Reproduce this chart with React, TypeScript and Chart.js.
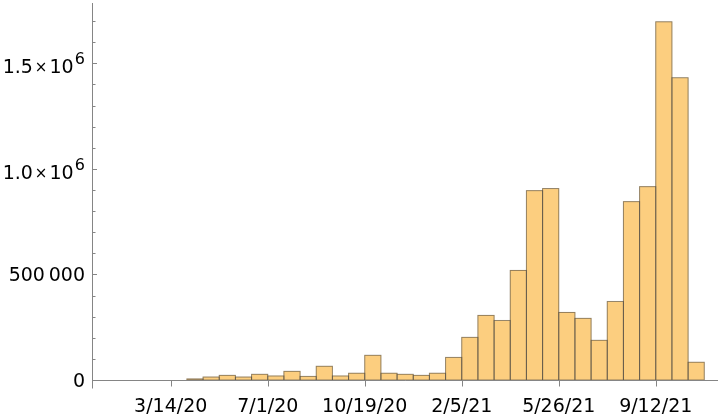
import React, { useEffect, useRef } from "react";
import { Chart, registerables } from "chart.js";

Chart.register(...registerables);

// Histogram bins (bin index units; tick 0 = 3/14/20, 6 bins per labelled tick)
const binIndex = [
  1, 2, 3, 4, 5, 6, 7, 8, 9, 10, 11, 12, 13, 14, 15, 16,
  17, 18, 19, 20, 21, 22, 23, 24, 25, 26, 27, 28, 29, 30, 31, 32,
];
const counts = [
  5000, 14000, 22000, 14000, 27000, 19000, 41000, 17000, 65000, 19000, 32000, 117000,
  32000, 27000, 22000, 32000, 107000, 202000, 306000, 282000, 519000, 897000, 907000, 320000,
  292000, 188000, 372000, 845000, 916000, 1697000, 1432000, 84000,
];

const xTickPositions = [0, 6, 12, 18, 24, 30];
const xTickLabels = ["3/14/20", "7/1/20", "10/19/20", "2/5/21", "5/26/21", "9/12/21"];

const yMajorTicks = [0, 500000, 1000000, 1500000];
const yTickMantissa = ["0", "500\u2009000", "1.0", "1.5"];
const yTickExp = ["", "", "6", "6"];
const yMinorTicks = [
  100000, 200000, 300000, 400000, 600000, 700000, 800000, 900000,
  1100000, 1200000, 1300000, 1400000, 1600000, 1700000,
];

const X_MIN = -4.87;
const X_MAX = 33.85;
const Y_MAX = 1786000;

const FONT = "DejaVu Sans";
const AXIS_COLOR = "#858585";

const outlinePlugin = {
  id: "outline",
  afterDatasetsDraw(chart: any) {
    const ctx = chart.ctx;
    const meta = chart.getDatasetMeta(0);
    ctx.save();
    ctx.lineWidth = 1;
    ctx.strokeStyle = "rgba(60,60,60,0.55)";
    meta.data.forEach((el: any) => {
      const p = el.getProps(["x", "y", "base", "width"], true);
      const left = p.x - p.width / 2;
      ctx.strokeRect(left, p.y, p.width, p.base - p.y);
    });
    ctx.restore();
  },
};

const axesPlugin = {
  id: "axes",
  afterDraw(chart: any) {
    const ctx = chart.ctx;
    const xs = chart.scales.x;
    const ys = chart.scales.y;
    const area = chart.chartArea;
    const ax = Math.round(area.left) + 0.5;
    const ay = Math.round(ys.getPixelForValue(0)) + 0.5;
    ctx.save();
    ctx.strokeStyle = AXIS_COLOR;
    ctx.lineWidth = 1;
    ctx.beginPath();
    ctx.moveTo(ax, area.top);
    ctx.lineTo(ax, ay + 8);
    ctx.stroke();
    ctx.beginPath();
    ctx.moveTo(ax, ay);
    ctx.lineTo(area.right, ay);
    ctx.stroke();
    xTickPositions.forEach((v) => {
      const px = Math.round(xs.getPixelForValue(v)) + 0.5;
      ctx.beginPath();
      ctx.moveTo(px, ay);
      ctx.lineTo(px, ay + 6);
      ctx.stroke();
    });
    yMajorTicks.forEach((v) => {
      if (v === 0) return;
      const py = Math.round(ys.getPixelForValue(v)) + 0.5;
      ctx.beginPath();
      ctx.moveTo(ax, py);
      ctx.lineTo(ax + 4.5, py);
      ctx.stroke();
    });
    yMinorTicks.forEach((v) => {
      const py = Math.round(ys.getPixelForValue(v)) + 0.5;
      ctx.beginPath();
      ctx.moveTo(ax, py);
      ctx.lineTo(ax + 3, py);
      ctx.stroke();
    });

    ctx.fillStyle = "#000";
    ctx.textBaseline = "alphabetic";
    ctx.font = `19px '${FONT}'`;
    ctx.textAlign = "center";
    xTickPositions.forEach((v, i) => {
      const px = xs.getPixelForValue(v);
      ctx.fillText(xTickLabels[i], px, ay + 31);
    });

    const rightEdge = 85;
    yMajorTicks.forEach((v, i) => {
      const py = ys.getPixelForValue(v);
      const exp = yTickExp[i];
      if (!exp) {
        ctx.textAlign = "right";
        ctx.font = `19px '${FONT}'`;
        ctx.fillText(yTickMantissa[i], rightEdge, py + 7);
      } else {
        const base = py + 10;
        ctx.textAlign = "right";
        ctx.font = `16px '${FONT}'`;
        const ew = ctx.measureText(exp).width;
        ctx.fillText(exp, rightEdge, py + 1);
        ctx.font = `19px '${FONT}'`;
        const tenRight = rightEdge - ew - 1.2;
        const tenW = ctx.measureText("10").width;
        ctx.fillText("10", tenRight, base);
        const timesCenter = tenRight - tenW - 8.3;
        ctx.textAlign = "center";
        ctx.font = `15px '${FONT}'`;
        ctx.fillText("\u00d7", timesCenter, base - 1);
        ctx.textAlign = "right";
        ctx.font = `19px '${FONT}'`;
        ctx.fillText(yTickMantissa[i], timesCenter - 8.2, base);
      }
    });
    ctx.restore();
  },
};

export default function App() {
  const ref = useRef<HTMLCanvasElement | null>(null);

  useEffect(() => {
    if (!ref.current) return;
    const chart = new Chart(ref.current, {
      type: "bar",
      data: {
        datasets: [
          {
            data: counts.map((v, i) => ({ x: binIndex[i] + 0.5, y: v })),
            backgroundColor: "rgb(252,206,127)",
            borderWidth: 0,
            barPercentage: 1,
            categoryPercentage: 1,
          },
        ],
      },
      options: {
        responsive: false,
        animation: false,
        layout: { padding: { left: 92, right: 2, top: 3, bottom: 38 } },
        plugins: { legend: { display: false }, tooltip: { enabled: false } },
        scales: {
          x: { type: "linear", min: X_MIN, max: X_MAX, display: false, offset: false },
          y: { type: "linear", min: 0, max: Y_MAX, display: false },
        },
      },
      plugins: [outlinePlugin, axesPlugin],
    });
    return () => chart.destroy();
  }, []);

  return (
    <div style={{ position: "fixed", left: 0, top: 0, width: 720, height: 418, background: "#fff" }}>
      <canvas ref={ref} width={720} height={418} style={{ display: "block" }} />
    </div>
  );
}
